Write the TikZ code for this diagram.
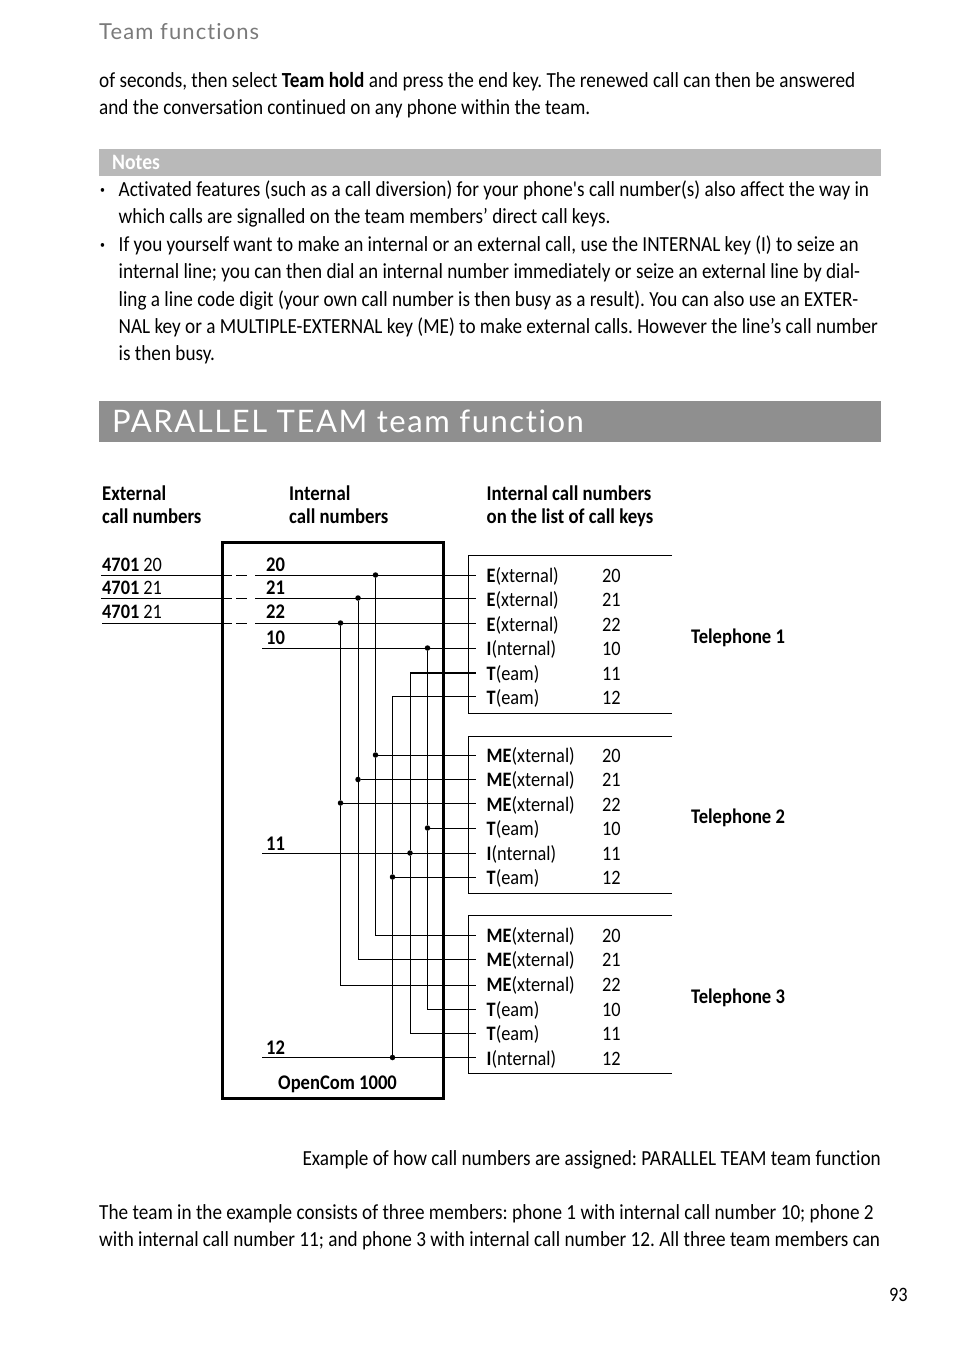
\documentclass[tikz,border=0pt]{standalone}
\usepackage{xcolor}
\usepackage{fontspec}
\defaultfontfeatures[\rmfamily]{}
\setmainfont[FakeStretch=0.893,Ligatures=NoCommon]{Carlito}
\newfontfamily\headfont[LetterSpace=5,Ligatures=NoCommon]{Lato}
\frenchspacing
\usetikzlibrary{positioning}
\definecolor{barnotes}{HTML}{B9B9B9}
\definecolor{bartitle}{HTML}{8F8F8F}
\definecolor{headgray}{HTML}{7A7A7A}

\begin{document}
\begin{tikzpicture}[
  x=1pt, y=-1pt,
  bodytext/.style={
    anchor=north west, inner sep=0pt, align=left,
    font=\fontsize{21.5}{27.3}\selectfont
  },
  keytext/.style={
    anchor=base west, inner sep=0pt, font=\fontsize{20.5}{24}\selectfont
  },
  boldtext/.style={
    keytext, font=\fontsize{20.8}{24}\selectfont\bfseries
  },
  headtext/.style={
    anchor=north west, inner sep=0pt, align=left,
    font=\fontsize{21}{22.3}\selectfont\bfseries
  },
  bulletmark/.style={
    keytext, font=\fontsize{11}{13}\selectfont
  },
  junction/.style={
    circle, fill=black, inner sep=0pt, minimum size=5.5pt
  },
  wire/.style={line width=0.9pt},
  frame/.style={line width=0.9pt}
]
\useasboundingbox (0,0) rectangle (954,1354);

% Page text
\node[anchor=west, inner sep=0pt, text=headgray, font=\fontsize{22}{26}\headfont] (pagehead) at (99,32) {Team functions};
\node[bodytext] (introtext) at (99,72) {of seconds, then select \textbf{Team hold} and press the end key. The renewed call can then be answered\\and the conversation continued on any phone within the team.};

% Notes
\node[fill=barnotes, anchor=north west, inner sep=0pt, minimum width=782pt, minimum height=27pt] (notesbar) at (99,149) {};
\node[keytext, text=white, font=\fontsize{22}{26}\selectfont\bfseries] (notestitle) at (112,169) {Notes};
\node[bulletmark] (bulletone) at (100,193) {\textbullet};
\node[bodytext] (noteone) at (118.5,180.5) {Activated features (such as a call diversion) for your phone's call number(s) also affect the way in\\which calls are signalled on the team members’ direct call keys.};
\node[bulletmark] (bullettwo) at (100,248) {\textbullet};
\node[bodytext] (notetwo) at (118.5,235.5) {If you yourself want to make an internal or an external call, use the INTERNAL key (I) to seize an\\internal line; you can then dial an internal number immediately or seize an external line by dial-\\ling a line code digit (your own call number is then busy as a result). You can also use an EXTER-\\NAL key or a MULTIPLE-EXTERNAL key (ME) to make external calls. However the line’s call number\\is then busy.};

% Title bar
\node[fill=bartitle, anchor=north west, inner sep=0pt, minimum width=782pt, minimum height=41pt] (titlebar) at (99,401) {};
\node[anchor=west, inner sep=0pt, text=white, font=\fontsize{31}{36}\headfont] (titletext) at (112,421) {PARALLEL TEAM team function};

% Column headings
\node[headtext] (headext) at (102,486) {External\\call numbers};
\node[headtext] (headint) at (289,486) {Internal\\call numbers};
\node[headtext] (headkeys) at (486.5,486) {Internal call numbers\\on the list of call keys};

% External numbers
\node[keytext] (ext20) at (102,571) {\textbf{4701} 20};
\node[keytext] (ext21) at (102,594) {\textbf{4701} 21};
\node[keytext] (ext22) at (102,618) {\textbf{4701} 21};

% System box
\node[draw, line width=2.6pt, anchor=north west, inner sep=0pt, minimum width=221.1pt, minimum height=555.9pt] (system) at (221,541) {};
\node[boldtext] (sysname) at (278,1089) {OpenCom 1000};

% Internal numbers
\node[boldtext] (int20) at (266,571) {20};
\node[boldtext] (int21) at (266,594) {21};
\node[boldtext] (int22) at (266,618) {22};
\node[boldtext] (int10) at (266,644) {10};
\node[boldtext] (int11) at (266,850) {11};
\node[boldtext] (int12) at (266,1054) {12};

% Telephone 1
\node[keytext] (keya1) at (486.5,582) {\textbf{E}(xternal)};
\node[keytext] (numa1) at (602,582) {20};
\node[keytext] (keya2) at (486.5,606) {\textbf{E}(xternal)};
\node[keytext] (numa2) at (602,606) {21};
\node[keytext] (keya3) at (486.5,631) {\textbf{E}(xternal)};
\node[keytext] (numa3) at (602,631) {22};
\node[keytext] (keya4) at (486.5,655) {\textbf{I}(nternal)};
\node[keytext] (numa4) at (602,655) {10};
\node[keytext] (keya5) at (486.5,680) {\textbf{T}(eam)};
\node[keytext] (numa5) at (602,680) {11};
\node[keytext] (keya6) at (486.5,704) {\textbf{T}(eam)};
\node[keytext] (numa6) at (602,704) {12};
\node[boldtext] (phonea) at (691,643) {Telephone 1};

% Telephone 2
\node[keytext] (keyb1) at (486.5,762) {\textbf{ME}(xternal)};
\node[keytext] (numb1) at (602,762) {20};
\node[keytext] (keyb2) at (486.5,786) {\textbf{ME}(xternal)};
\node[keytext] (numb2) at (602,786) {21};
\node[keytext] (keyb3) at (486.5,811) {\textbf{ME}(xternal)};
\node[keytext] (numb3) at (602,811) {22};
\node[keytext] (keyb4) at (486.5,835) {\textbf{T}(eam)};
\node[keytext] (numb4) at (602,835) {10};
\node[keytext] (keyb5) at (486.5,860) {\textbf{I}(nternal)};
\node[keytext] (numb5) at (602,860) {11};
\node[keytext] (keyb6) at (486.5,884) {\textbf{T}(eam)};
\node[keytext] (numb6) at (602,884) {12};
\node[boldtext] (phoneb) at (691,823) {Telephone 2};

% Telephone 3
\node[keytext] (keyc1) at (486.5,942) {\textbf{ME}(xternal)};
\node[keytext] (numc1) at (602,942) {20};
\node[keytext] (keyc2) at (486.5,966) {\textbf{ME}(xternal)};
\node[keytext] (numc2) at (602,966) {21};
\node[keytext] (keyc3) at (486.5,991) {\textbf{ME}(xternal)};
\node[keytext] (numc3) at (602,991) {22};
\node[keytext] (keyc4) at (486.5,1016) {\textbf{T}(eam)};
\node[keytext] (numc4) at (602,1016) {10};
\node[keytext] (keyc5) at (486.5,1040) {\textbf{T}(eam)};
\node[keytext] (numc5) at (602,1040) {11};
\node[keytext] (keyc6) at (486.5,1065) {\textbf{I}(nternal)};
\node[keytext] (numc6) at (602,1065) {12};
\node[boldtext] (phonec) at (691,1003) {Telephone 3};

% Frames round the keys, open to the right
\draw[frame] (672,555.5) -- (468.5,555.5) -- (468.5,713.5) -- (672,713.5);
\draw[frame] (672,736) -- (468.5,736) -- (468.5,893.5) -- (672,893.5);
\draw[frame] (672,915.5) -- (468.5,915.5) -- (468.5,1073.5) -- (672,1073.5);

% Junctions
\node[junction] (j20a) at (375.5,575) {};
\node[junction] (j21a) at (358,598) {};
\node[junction] (j22a) at (340.5,623) {};
\node[junction] (j10a) at (427.5,648) {};
\node[junction] (j20b) at (375.5,755) {};
\node[junction] (j21b) at (358,779.5) {};
\node[junction] (j22b) at (340.5,803) {};
\node[junction] (j10b) at (427.5,828) {};
\node[junction] (j11b) at (410,853) {};
\node[junction] (j12b) at (392.5,877) {};
\node[junction] (j12c) at (392.5,1057.5) {};

% Wire ends at the keys
\coordinate (enda1) at (476,575);
\coordinate (enda2) at (476,598);
\coordinate (enda3) at (476,623);
\coordinate (enda4) at (476,648);
\coordinate (enda5) at (476,673);
\coordinate (enda6) at (476,696);
\coordinate (endb1) at (476,755);
\coordinate (endb2) at (476,779.5);
\coordinate (endb3) at (476,803);
\coordinate (endb4) at (476,828);
\coordinate (endb5) at (476,853);
\coordinate (endb6) at (476,877);
\coordinate (endc1) at (476,935);
\coordinate (endc2) at (476,959.5);
\coordinate (endc3) at (476,985);
\coordinate (endc4) at (476,1009);
\coordinate (endc5) at (476,1033);
\coordinate (endc6) at (476,1057.5);

% Wire starts on the left
\coordinate (out20) at (101,575);
\coordinate (out21) at (101,598);
\coordinate (out22) at (102,623);
\coordinate (cut20) at (232,575);
\coordinate (cut21) at (232,598);
\coordinate (cut22) at (232,623);
\coordinate (in20) at (262,575);
\coordinate (in21) at (262,598);
\coordinate (in22) at (262,623);
\coordinate (in10) at (262,648);
\coordinate (in11) at (262,853);
\coordinate (in12) at (262,1057.5);

% External lines, dashed inside the box
\draw[wire] (out20) -- (cut20);
\draw[wire] (out21) -- (cut21);
\draw[wire] (out22) -- (cut22);
\draw[wire, dash pattern=on 0pt off 4pt on 11pt off 8pt on 7pt] (cut20) -- (in20);
\draw[wire, dash pattern=on 0pt off 4pt on 11pt off 8pt on 7pt] (cut21) -- (in21);
\draw[wire, dash pattern=on 0pt off 4pt on 11pt off 8pt on 7pt] (cut22) -- (in22);

% Horizontal wires
\draw[wire] (in20) -- (enda1);
\draw[wire] (in21) -- (enda2);
\draw[wire] (in22) -- (enda3);
\draw[wire] (in10) -- (enda4);
\draw[wire, line width=1.4pt] (j11b |- enda5) -- (enda5);
\draw[wire] (j12b |- enda6) -- (enda6);
\draw[wire] (j20b) -- (endb1);
\draw[wire] (j21b) -- (endb2);
\draw[wire] (j22b) -- (endb3);
\draw[wire] (j10b) -- (endb4);
\draw[wire] (in11) -- (endb5);
\draw[wire] (j12b) -- (endb6);
\draw[wire] (in12) -- (endc6);

% Vertical wires
\draw[wire] (j20a) -- (j20b) -- (j20b |- endc1) -- (endc1);
\draw[wire] (j21a) -- (j21b) -- (j21b |- endc2) -- (endc2);
\draw[wire] (j22a) -- (j22b) -- (j22b |- endc3) -- (endc3);
\draw[wire] (j10a) -- (j10b) -- (j10b |- endc4) -- (endc4);
\draw[wire] (j11b |- enda5) -- (j11b) -- (j11b |- endc5) -- (endc5);
\draw[wire] (j12b |- enda6) -- (j12b) -- (j12c);

% Text under the picture
\node[keytext, font=\fontsize{21.5}{27.3}\selectfont, anchor=base east] (caption) at (881,1165) {Example of how call numbers are assigned: PARALLEL TEAM team function};
\node[bodytext] (closetext) at (99,1204.5) {The team in the example consists of three members: phone 1 with internal call number 10; phone 2\\with internal call number 11; and phone 3 with internal call number 12. All three team members can};
\node[keytext] (pagenum) at (889,1301) {93};
\end{tikzpicture}
\end{document}
